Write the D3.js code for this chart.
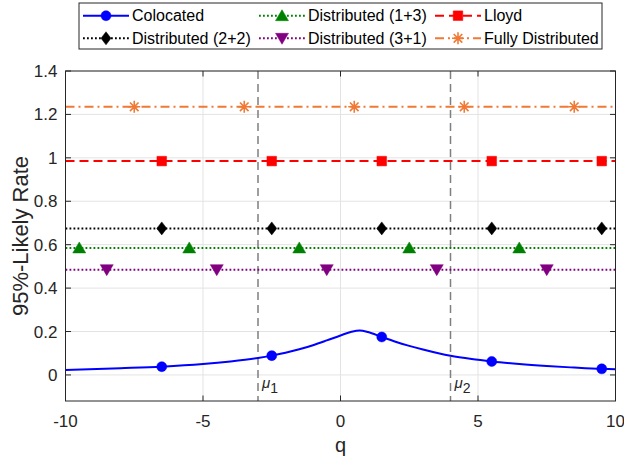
<!DOCTYPE html>
<html>
<head>
<meta charset="utf-8">
<script src="https://cdn.jsdelivr.net/npm/d3@7"></script>
<style>
  html, body { margin: 0; padding: 0; background: #fff; }
  svg { display: block; font-family: "Liberation Sans", Arial, Helvetica, sans-serif; }
</style>
</head>
<body>
<svg id="chart" width="624" height="460"></svg>
<script>
// Axis ranges and ticks
const xDomain = [-10, 10];
const yDomain = [-0.12, 1.4];
const xTicks = [-10, -5, 0, 5, 10];
const yTicks = [0, 0.2, 0.4, 0.6, 0.8, 1, 1.2, 1.4];
const yTickLabels = ["0", "0.2", "0.4", "0.6", "0.8", "1", "1.2", "1.4"];

// Colocated rate as a function of q
const colocQ = [-10, -8, -6.5, -5, -4, -3, -2.5, -2, -1.5, -1, -0.5, 0, 0.4, 0.7, 1.0, 1.5, 2, 2.5, 3, 4, 5, 5.5, 6.5, 7.5, 8.5, 9.5, 10];
const colocRate = [0.023, 0.031, 0.038, 0.050, 0.062, 0.078, 0.089, 0.102, 0.118, 0.137, 0.159, 0.182, 0.199, 0.205, 0.198, 0.175, 0.153, 0.134, 0.117, 0.088, 0.070, 0.062, 0.050, 0.041, 0.034, 0.028, 0.026];
const colocMarkQ = [-6.5, -2.5, 1.5, 5.5, 9.5];

// Flat rates of the other schemes
const dist22Rate = 0.675;
const dist13Rate = 0.585;
const dist31Rate = 0.485;
const lloydRate = 0.985;
const fullRate = 1.235;

// Marker positions along q for the flat schemes
const dist22MarkQ = [-6.5, -2.5, 1.5, 5.5, 9.5];
const dist13MarkQ = [-9.5, -5.5, -1.5, 2.5, 6.5];
const dist31MarkQ = [-8.5, -4.5, -0.5, 3.5, 7.5];
const lloydMarkQ = [-6.5, -2.5, 1.5, 5.5, 9.5];
const fullMarkQ = [-7.5, -3.5, 0.5, 4.5, 8.5];

// Reference means
const muQ = [-3, 4];
const muNames = ["1", "2"];

const legendNames = ["Colocated", "Distributed (2+2)", "Distributed (1+3)", "Distributed (3+1)", "Lloyd", "Fully Distributed"];

// ---------------------------------------------------------------
const svg = d3.select("#chart");
const plot = { left: 65.5, right: 615.5, top: 71, bottom: 401 };
const x = d3.scaleLinear().domain(xDomain).range([plot.left, plot.right]);
const y = d3.scaleLinear().domain(yDomain).range([plot.bottom, plot.top]);

const axisColor = "#262626";
const gridColor = "#e3e3e3";

// marker path builders (centered at 0,0)
const markers = {
  circle: () => "M5,0A5,5 0 1,1 -5,0A5,5 0 1,1 5,0Z",
  diamond: () => "M0,-6.5L5,0L0,6.5L-5,0Z",
  triUp: () => "M0,-6L6.5,5L-6.5,5Z",
  triDown: () => "M0,6L6.5,-5L-6.5,-5Z",
  square: () => "M-4.8,-4.8H4.8V4.8H-4.8Z",
  star: () => "M-6,0H6M0,-6V6M-4.3,-4.3L4.3,4.3M-4.3,4.3L4.3,-4.3"
};

const series = [
  { name: legendNames[0], color: "#0000ff", dash: null, width: 2, marker: "circle", fill: true,
    pts: colocQ.map((q, i) => [q, colocRate[i]]),
    marks: colocMarkQ.map(q => [q, colocRate[colocQ.indexOf(q)]]) },
  { name: legendNames[1], color: "#000000", dash: "1.8,2.2", width: 2, marker: "diamond", fill: true,
    pts: xDomain.map(q => [q, dist22Rate]), marks: dist22MarkQ.map(q => [q, dist22Rate]) },
  { name: legendNames[2], color: "#008000", dash: "1.8,2.2", width: 2, marker: "triUp", fill: true,
    pts: xDomain.map(q => [q, dist13Rate]), marks: dist13MarkQ.map(q => [q, dist13Rate]) },
  { name: legendNames[3], color: "#800080", dash: "1.8,2.2", width: 2, marker: "triDown", fill: true,
    pts: xDomain.map(q => [q, dist31Rate]), marks: dist31MarkQ.map(q => [q, dist31Rate]) },
  { name: legendNames[4], color: "#ff0000", dash: "9,5", width: 2, marker: "square", fill: true,
    pts: xDomain.map(q => [q, lloydRate]), marks: lloydMarkQ.map(q => [q, lloydRate]) },
  { name: legendNames[5], color: "#f07a35", dash: "9,4,2,4", width: 2, marker: "star", fill: false,
    pts: xDomain.map(q => [q, fullRate]), marks: fullMarkQ.map(q => [q, fullRate]) }
];

// grid
const grid = svg.append("g");
grid.selectAll("line.gx").data(xTicks).join("line")
  .attr("x1", d => x(d)).attr("x2", d => x(d))
  .attr("y1", plot.top).attr("y2", plot.bottom)
  .attr("stroke", gridColor).attr("stroke-width", 1);
grid.selectAll("line.gy").data(yTicks).join("line")
  .attr("x1", plot.left).attr("x2", plot.right)
  .attr("y1", d => y(d)).attr("y2", d => y(d))
  .attr("stroke", gridColor).attr("stroke-width", 1);

// vertical mean markers
const mu = svg.append("g");
mu.selectAll("line").data(muQ).join("line")
  .attr("x1", d => x(d)).attr("x2", d => x(d))
  .attr("y1", plot.top).attr("y2", plot.bottom)
  .attr("stroke", "#7f7f7f").attr("stroke-width", 1.5)
  .attr("stroke-dasharray", "8,5");
const muText = mu.selectAll("text").data(muQ).join("text")
  .attr("x", d => x(d) + 4).attr("y", 388)
  .attr("font-size", 15).attr("fill", "#262626");
muText.append("tspan").attr("font-style", "italic").text("\u03bc");
muText.append("tspan").attr("dy", 5).attr("font-size", 14).text((d, i) => muNames[i]);

// series
const line = d3.line().x(d => x(d[0])).y(d => y(d[1]));
const lineCurve = d3.line().x(d => x(d[0])).y(d => y(d[1])).curve(d3.curveMonotoneX);

const sg = svg.append("g");
series.forEach((s, i) => {
  sg.append("path")
    .attr("d", i === 0 ? lineCurve(s.pts) : line(s.pts))
    .attr("fill", "none").attr("stroke", s.color)
    .attr("stroke-width", s.width)
    .attr("stroke-dasharray", s.dash);
  sg.selectAll(null).data(s.marks).join("path")
    .attr("transform", d => `translate(${x(d[0])},${y(d[1])})`)
    .attr("d", markers[s.marker]())
    .attr("fill", s.fill ? s.color : "none")
    .attr("stroke", s.color).attr("stroke-width", s.fill ? 0.5 : 1.6);
});

// axes box with inward ticks on all sides
const ax = svg.append("g");
const tickLen = 5.5;
ax.append("rect").attr("x", plot.left).attr("y", plot.top)
  .attr("width", plot.right - plot.left).attr("height", plot.bottom - plot.top)
  .attr("fill", "none").attr("stroke", axisColor).attr("stroke-width", 1);
xTicks.forEach(t => {
  ax.append("line").attr("x1", x(t)).attr("x2", x(t)).attr("y1", plot.bottom).attr("y2", plot.bottom - tickLen).attr("stroke", axisColor);
  ax.append("line").attr("x1", x(t)).attr("x2", x(t)).attr("y1", plot.top).attr("y2", plot.top + tickLen).attr("stroke", axisColor);
});
yTicks.forEach(t => {
  ax.append("line").attr("x1", plot.left).attr("x2", plot.left + tickLen).attr("y1", y(t)).attr("y2", y(t)).attr("stroke", axisColor);
  ax.append("line").attr("x1", plot.right).attr("x2", plot.right - tickLen).attr("y1", y(t)).attr("y2", y(t)).attr("stroke", axisColor);
});
ax.selectAll("text.xt").data(xTicks).join("text")
  .attr("x", d => x(d)).attr("y", 427)
  .attr("text-anchor", "middle").attr("font-size", 17).attr("fill", axisColor)
  .text(d => String(d));
ax.selectAll("text.yt").data(yTicks).join("text")
  .attr("x", plot.left - 8).attr("y", d => y(d) + 6)
  .attr("text-anchor", "end").attr("font-size", 17).attr("fill", axisColor)
  .text((d, i) => yTickLabels[i]);

svg.append("text").attr("x", (plot.left + plot.right) / 2).attr("y", 452)
  .attr("text-anchor", "middle").attr("font-size", 20).attr("fill", axisColor).text("q");
svg.append("text")
  .attr("transform", `translate(28,${(plot.top + plot.bottom) / 2}) rotate(-90)`)
  .attr("text-anchor", "middle").attr("font-size", 22).attr("fill", axisColor).text("95%-Likely Rate");

// legend: three columns, two rows
const leg = svg.append("g");
const legBox = { x: 79, y: 3, w: 523, h: 46 };
leg.append("rect").attr("x", legBox.x).attr("y", legBox.y)
  .attr("width", legBox.w).attr("height", legBox.h)
  .attr("fill", "#fff").attr("stroke", axisColor).attr("stroke-width", 1);
const colX = [83, 259, 435];
const rowY = [15.7, 38.3];
const order = [0, 2, 4, 1, 3, 5]; // row-major placement
order.forEach((si, k) => {
  const s = series[si];
  const cx = colX[k % 3], cy = rowY[Math.floor(k / 3)];
  leg.append("line").attr("x1", cx).attr("x2", cx + 46).attr("y1", cy).attr("y2", cy)
    .attr("stroke", s.color).attr("stroke-width", s.width).attr("stroke-dasharray", s.dash);
  leg.append("path").attr("transform", `translate(${cx + 23},${cy})`)
    .attr("d", markers[s.marker]())
    .attr("fill", s.fill ? s.color : "none")
    .attr("stroke", s.color).attr("stroke-width", s.fill ? 0.5 : 1.6);
  leg.append("text").attr("x", cx + 49).attr("y", cy + 5.7)
    .attr("font-size", 16).attr("fill", "#000").text(s.name);
});
</script>
</body>
</html>
